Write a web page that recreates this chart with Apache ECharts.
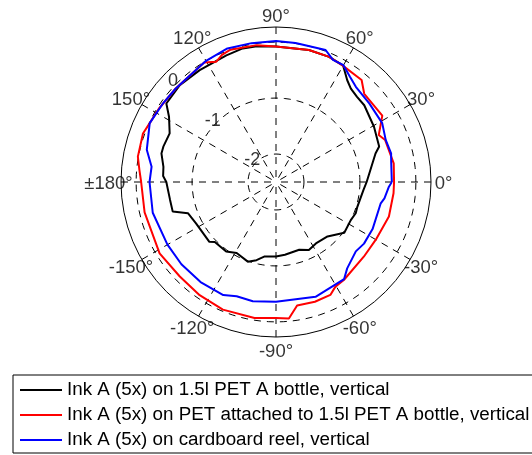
<!DOCTYPE html>
<html>
<head>
<meta charset="utf-8">
<script src="https://cdn.jsdelivr.net/npm/echarts@6/dist/echarts.min.js"></script>
<style>
  html, body { margin: 0; padding: 0; background: #fff; }
  #chart { width: 532px; height: 455px; }
</style>
</head>
<body>
<div id="chart"></div>
<script>
// Radial scale: centre of the plot and outer circle
const rMin = -2.5;
const rMax = 0.27;

// Dashed rings and their labels
const ringValues = [-2, -1, 0];
const ringLabels = ['-2', '-1', '0'];
const ringLabelAngle = 135;

// Angular ticks (degrees, counter-clockwise from east)
const angleTicks = [0, 30, 60, 90, 120, 150, 180, 210, 240, 270, 300, 330];
const angleTickLabels = ['0°', '30°', '60°', '90°', '120°', '150°', '±180°', '-150°', '-120°', '-90°', '-60°', '-30°'];

// Series names
const names = [
  'Ink A (5x) on 1.5l PET A bottle, vertical',
  'Ink A (5x) on PET attached to 1.5l PET A bottle, vertical',
  'Ink A (5x) on cardboard reel, vertical'
];

// Ink A on the bottle
const bottleAngles = [0, 16, 19, 29.4, 41, 46.4, 51.3, 55, 60, 67, 76, 90, 98, 104, 111.4, 124.3, 134.8, 144.4, 148.6, 155.4, 162.6, 166, 172.3, 177, 180, 189.6, 196, 199.5, 207.4, 221.9, 224.4, 234.4, 241, 250.5, 256, 261, 270, 277, 288.9, 295.8, 303, 313.4, 323.4, 333, 338.6, 343, 354.8, 360];
const bottleValues = [-0.88, -0.65, -0.55, -0.49, -0.41, -0.40, -0.36, -0.28, -0.10, -0.07, -0.07, -0.08, -0.05, -0.04, -0.07, -0.08, -0.06, -0.09, -0.26, -0.41, -0.39, -0.39, -0.47, -0.48, -0.54, -0.58, -0.58, -0.83, -0.89, -0.90, -0.97, -0.97, -1.05, -0.99, -1.06, -1.15, -1.17, -1.19, -1.22, -1.15, -1.19, -1.16, -0.98, -1.00, -0.97, -0.98, -0.93, -0.88];

// Ink A on PET attached to the bottle
const petAngles = [0, 9, 21, 24.6, 32, 45, 50, 60.5, 67, 76, 90, 98, 109, 113, 116.4, 121, 137, 148, 155, 160, 169.6, 175, 180, 193, 211.5, 224.5, 236, 247.4, 261, 270, 275.4, 279.7, 288, 295.7, 299.6, 304.7, 319.6, 330, 343, 354.5, 360];
const petValues = [-0.39, -0.37, -0.41, -0.48, -0.26, -0.27, -0.12, -0.10, -0.07, -0.07, -0.08, -0.03, 0.00, -0.03, -0.10, -0.01, -0.05, -0.03, -0.01, 0.03, 0.01, -0.05, -0.09, -0.09, -0.06, -0.09, -0.06, -0.03, -0.04, -0.07, -0.05, -0.26, -0.25, -0.26, -0.35, -0.37, -0.44, -0.44, -0.39, -0.39, -0.39];

// Ink A on the cardboard reel
const reelAngles = [0, 10, 14, 21, 29, 40, 50, 55, 60, 65, 69.4, 82, 90, 100, 110, 120, 137, 145, 155, 166, 173, 180, 194, 210, 221, 233, 245, 251, 259, 270, 289, 305, 309.5, 319, 325, 334, 348.5, 351.4, 357.6, 360];
const reelValues = [-0.43, -0.41, -0.38, -0.40, -0.33, -0.32, -0.28, -0.20, -0.09, -0.09, 0.02, 0.01, 0.02, 0.02, 0.04, 0.00, -0.05, -0.04, -0.01, -0.12, -0.26, -0.24, -0.23, -0.26, -0.26, -0.26, -0.27, -0.34, -0.33, -0.36, -0.33, -0.38, -0.50, -0.61, -0.58, -0.58, -0.59, -0.54, -0.48, -0.43];

const colors = ['#000000', '#ff0000', '#0000ff'];
const fontFamily = '"Liberation Sans", Arial, Helvetica, sans-serif';

function pairs(values, angles) {
  return values.map((v, i) => [v, angles[i]]);
}

// Full circle at a constant radius, for the dashed rings
function ringPath(v) {
  const pts = [];
  for (let a = 0; a <= 360; a += 3) pts.push([v, a]);
  return pts;
}

const chart = echarts.init(document.getElementById('chart'), null, { renderer: 'canvas' });

const series = [];

ringValues.forEach(v => {
  series.push({
    type: 'line',
    coordinateSystem: 'polar',
    polarIndex: 0,
    data: ringPath(v),
    symbol: 'none',
    silent: true,
    z: 1,
    lineStyle: { color: '#000', width: 1, type: [7, 6] }
  });
});

[[bottleValues, bottleAngles], [petValues, petAngles], [reelValues, reelAngles]].forEach((d, i) => {
  series.push({
    name: names[i],
    type: 'line',
    coordinateSystem: 'polar',
    polarIndex: 0,
    data: pairs(d[0], d[1]),
    symbol: 'none',
    z: 3 + i,
    lineStyle: { color: colors[i], width: 2 },
    itemStyle: { color: colors[i] }
  });
});

// Ring value labels
series.push({
  type: 'scatter',
  coordinateSystem: 'polar',
  polarIndex: 0,
  clip: false,
  silent: true,
  symbolSize: 1,
  itemStyle: { color: 'rgba(0,0,0,0)' },
  z: 10,
  data: ringValues.map(v => [v, ringLabelAngle]),
  label: {
    show: true,
    position: 'inside',
    offset: [-4, -2],
    color: '#000',
    fontSize: 18,
    fontFamily: fontFamily,
    formatter: p => ringLabels[p.dataIndex]
  }
});

// Angle labels on a slightly larger, invisible polar frame
series.push({
  type: 'scatter',
  coordinateSystem: 'polar',
  polarIndex: 1,
  clip: false,
  silent: true,
  symbolSize: 1,
  itemStyle: { color: 'rgba(0,0,0,0)' },
  z: 10,
  data: angleTicks.map(a => [1, a]),
  label: {
    show: true,
    position: 'inside',
    offset: [0, 2],
    color: '#000',
    fontSize: 18.5,
    fontFamily: fontFamily,
    formatter: p => angleTickLabels[p.dataIndex]
  }
});

chart.setOption({
  animation: false,
  backgroundColor: '#fff',
  polar: [
    { center: [276, 182], radius: 155 },
    { center: [276, 182], radius: 167.5 }
  ],
  angleAxis: [
    {
      polarIndex: 0,
      type: 'value',
      min: 0,
      max: 360,
      interval: 30,
      startAngle: 0,
      clockwise: false,
      axisLine: { show: true, lineStyle: { color: '#000', width: 1 } },
      axisTick: { show: false },
      axisLabel: { show: false },
      splitLine: { show: true, lineStyle: { color: '#000', width: 1, type: [7, 6] } }
    },
    {
      polarIndex: 1,
      type: 'value',
      min: 0,
      max: 360,
      startAngle: 0,
      clockwise: false,
      show: false
    }
  ],
  radiusAxis: [
    { polarIndex: 0, type: 'value', min: rMin, max: rMax, show: false },
    { polarIndex: 1, type: 'value', min: 0, max: 1, show: false }
  ],
  legend: {
    data: names.map(n => ({ name: n, icon: 'rect' })),
    orient: 'vertical',
    left: 13,
    top: 375,
    padding: [5, 6, 3, 7],
    itemGap: 5,
    itemWidth: 42,
    itemHeight: 2,
    borderColor: '#000',
    borderWidth: 1,
    borderRadius: 0,
    backgroundColor: '#fff',
    selectedMode: false,
    textStyle: { color: '#000', fontSize: 18.8, lineHeight: 20, fontFamily: fontFamily }
  },
  series: series
});
</script>
</body>
</html>
